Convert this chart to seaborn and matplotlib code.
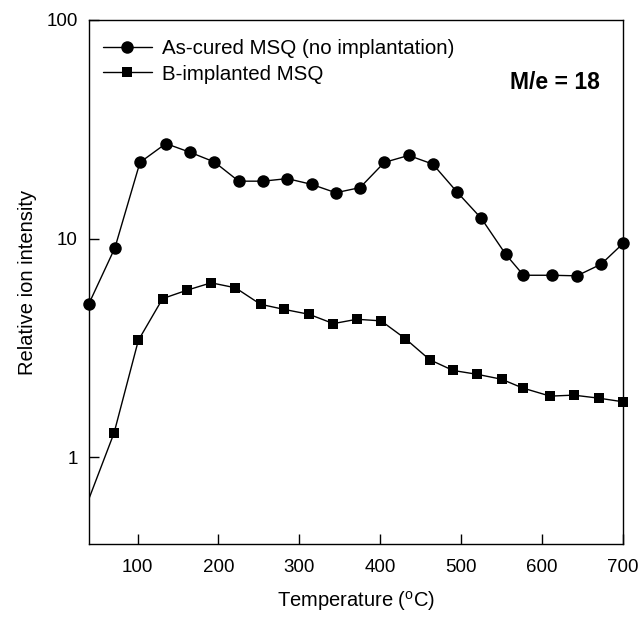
import matplotlib
matplotlib.use("Agg")
import matplotlib.pyplot as plt
import seaborn as sns
import pandas as pd
from matplotlib.lines import Line2D

# ---- data ----
temp_cured = [40, 72, 103, 135, 165, 195, 225, 255, 285, 315, 345, 375, 405,
              435, 465, 495, 525, 555, 577, 612, 643, 673, 700]
ion_cured = [5.04, 9.06, 22.3, 27.2, 24.8, 22.4, 18.3, 18.3, 18.8, 17.7, 16.2,
             17.1, 22.3, 24.0, 21.9, 16.3, 12.35, 8.47, 6.79, 6.79, 6.75, 7.63, 9.49]

temp_boron = [10, 71, 101, 131, 161, 191, 221, 252, 281, 312, 342, 371, 401,
              431, 461, 490, 520, 550, 576, 610, 639, 670, 700]
ion_boron = [0.33, 1.29, 3.42, 5.31, 5.80, 6.27, 5.95, 5.00, 4.74, 4.50, 4.08,
             4.27, 4.20, 3.48, 2.79, 2.49, 2.39, 2.27, 2.07, 1.90, 1.92, 1.86, 1.79]

series_labels = ["As-cured MSQ (no implantation)", "B-implanted MSQ"]
x_ticks = [100, 200, 300, 400, 500, 600, 700]
y_ticks = [1, 10, 100]
y_ticklabels = ["1", "10", "100"]
x_label = "Temperature ($\\mathregular{^{o}}$C)"
y_label = "Relative ion intensity"
annotation = "M/e = 18"

df_c = pd.DataFrame({"T": temp_cured, "I": ion_cured})
df_b = pd.DataFrame({"T": temp_boron, "I": ion_boron})
df_b_vis = df_b[df_b["T"] >= 40]

sns.set_theme(style="white")
plt.rcParams["font.family"] = ["Liberation Sans", "DejaVu Sans"]
plt.rcParams["mathtext.fontset"] = "custom"
plt.rcParams["mathtext.rm"] = "Liberation Sans"
plt.rcParams["text.color"] = "black"
plt.rcParams["axes.labelcolor"] = "black"

fig = plt.figure(figsize=(6.43, 6.17), dpi=100)
ax = fig.add_axes([89 / 643, 1 - 544 / 617, (623 - 89) / 643, (544 - 20) / 617])

lw = 1.0
# as-cured: line + circles
sns.lineplot(data=df_c, x="T", y="I", ax=ax, color="black", lw=lw, marker="o",
             markersize=9, markeredgewidth=0, sort=False, errorbar=None,
             clip_on=False, zorder=3)
# B-implanted: line (clipped) then markers (unclipped)
sns.lineplot(data=df_b, x="T", y="I", ax=ax, color="black", lw=lw,
             sort=False, errorbar=None, zorder=3)
sns.lineplot(data=df_b_vis, x="T", y="I", ax=ax, color="black", lw=0,
             marker="s", markersize=7.5, markeredgewidth=0, sort=False,
             errorbar=None, clip_on=False, zorder=3)

ax.set_yscale("log")
ax.set_xlim(40, 700)
ax.set_ylim(0.4, 100)
ax.set_xticks(x_ticks)
ax.set_xticklabels([str(t) for t in x_ticks])
ax.set_yticks(y_ticks)
ax.set_yticklabels(y_ticklabels)
ax.yaxis.set_minor_locator(matplotlib.ticker.NullLocator())
ax.tick_params(axis="both", which="major", direction="in", length=7,
               width=1, color="black", labelsize=13.5, labelcolor="black")
ax.tick_params(axis="x", pad=11, bottom=True, top=False)
ax.tick_params(axis="y", pad=8, left=True, right=False)
for s in ax.spines.values():
    s.set_color("black")
    s.set_linewidth(1.0)

ax.set_xlabel(x_label, fontsize=14.5, labelpad=9, color="black")
ax.set_ylabel(y_label, fontsize=14.5, labelpad=7, color="black")

handles = [
    Line2D([], [], color="black", lw=lw, marker="o", markersize=9, markeredgewidth=0),
    Line2D([], [], color="black", lw=lw, marker="s", markersize=7.5, markeredgewidth=0),
]
ax.legend(handles, series_labels, loc="upper left", bbox_to_anchor=(0.026, 0.963),
          frameon=False, fontsize=14.8, handlelength=2.38, handletextpad=0.49,
          labelspacing=0.3, borderaxespad=0, borderpad=0, numpoints=1,
          labelcolor="black")

ax.text(0.957, 0.880, annotation, transform=ax.transAxes, ha="right", va="center",
        fontsize=16.5, fontweight="bold", color="black")

fig.savefig("out.png", dpi=100, facecolor="white")
